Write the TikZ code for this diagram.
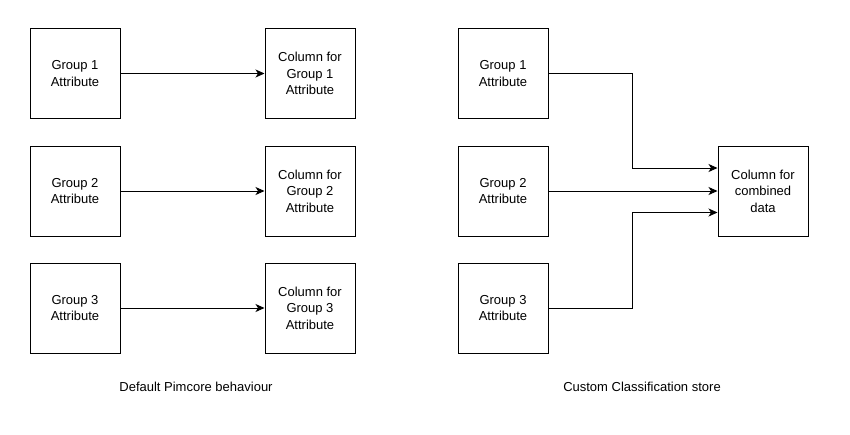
\documentclass[tikz,border=0pt]{standalone}
\usepackage{fontspec}
\setmainfont{Liberation Sans}
\usetikzlibrary{arrows.meta}
\begin{document}
\begin{tikzpicture}[x=1pt,y=-1pt,
  box/.style={draw=black,line width=1pt,minimum width=90pt,minimum height=90pt,inner sep=0pt,align=center,font=\fontsize{13}{16.5}\selectfont},
  conn/.style={draw=black,line width=1pt,-{Stealth[length=9pt,width=8pt,inset=2.5pt]}},
  caption/.style={font=\fontsize{13}{15}\selectfont,inner sep=0pt}]
\useasboundingbox (0,0) rectangle (850,434);
\node[box] (a1) at (75,73.5) {Group 1\\Attribute};
\node[box] (a2) at (75,191) {Group 2\\Attribute};
\node[box] (a3) at (75,308) {Group 3\\Attribute};
\node[box] (b1) at (310,73.5) {Column for\\Group 1\\Attribute};
\node[box] (b2) at (310,191) {Column for\\Group 2\\Attribute};
\node[box] (b3) at (310,308) {Column for\\Group 3\\Attribute};
\node[box] (c1) at (503,73.5) {Group 1\\Attribute};
\node[box] (c2) at (503,191) {Group 2\\Attribute};
\node[box] (c3) at (503,308) {Group 3\\Attribute};
\node[box] (d) at (763,191) {Column for\\combined\\data};
\draw[conn] (a1) -- (b1);
\draw[conn] (a2) -- (b2);
\draw[conn] (a3) -- (b3);
\draw[conn] (c1.east) -- (632.5,73.5) |- ([yshift=23pt]d.west);
\draw[conn] (c2) -- (d);
\draw[conn] (c3.east) -- (632.5,308) |- ([yshift=-21.5pt]d.west);
\node[caption] (l1) at (196,387) {Default Pimcore behaviour};
\node[caption] (l2) at (642,387) {Custom Classification store};
\end{tikzpicture}
\end{document}
